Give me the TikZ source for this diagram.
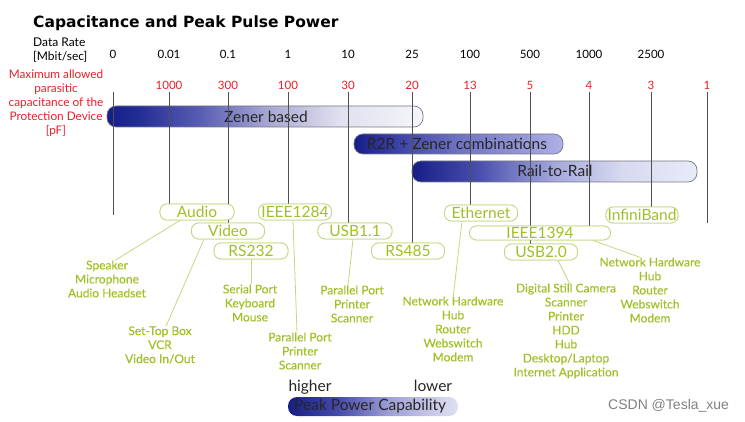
\documentclass[tikz,border=0pt]{standalone}
\usepackage{fontspec}
\setmainfont{Lato}
\newfontfamily\titlefont{DejaVu Sans}
\newfontfamily\wmfont{Liberation Sans}
\newfontfamily\descfont{Lato}[FakeBold=0.3]
\definecolor{navy}{RGB}{22,30,135}
\definecolor{gtext}{RGB}{160,192,40}
\definecolor{gline}{RGB}{195,215,130}
\definecolor{rtext}{RGB}{235,30,40}
\definecolor{colline}{RGB}{80,80,80}
\definecolor{barline}{RGB}{120,120,130}
\definecolor{zA}{RGB}{35,45,150}
\definecolor{zB}{RGB}{90,95,180}
\definecolor{zC}{RGB}{165,165,210}
\definecolor{zD}{RGB}{225,225,240}
\definecolor{zE}{RGB}{245,245,250}
\definecolor{rA}{RGB}{60,65,165}
\definecolor{rB}{RGB}{110,115,195}
\definecolor{rC}{RGB}{175,175,230}
\definecolor{tA}{RGB}{75,80,175}
\definecolor{tB}{RGB}{165,168,220}
\definecolor{tC}{RGB}{215,218,240}
\definecolor{tD}{RGB}{232,235,248}
\definecolor{pA}{RGB}{70,75,170}
\definecolor{pB}{RGB}{160,160,215}
\definecolor{pC}{RGB}{225,225,242}
\pgfdeclarehorizontalshading{zenershade}{100bp}{color(0bp)=(navy); color(25bp)=(navy); color(30bp)=(zA); color(40bp)=(zB); color(50bp)=(zC); color(62bp)=(zD); color(75bp)=(zE); color(100bp)=(zE)}
\pgfdeclarehorizontalshading{rtwozshade}{100bp}{color(0bp)=(navy); color(25bp)=(navy); color(35bp)=(rA); color(50bp)=(rB); color(75bp)=(rC); color(100bp)=(rC)}
\pgfdeclarehorizontalshading{railshade}{100bp}{color(0bp)=(navy); color(25bp)=(navy); color(37bp)=(tA); color(50bp)=(tB); color(62bp)=(tC); color(75bp)=(tD); color(100bp)=(tD)}
\pgfdeclarehorizontalshading{peakshade}{100bp}{color(0bp)=(navy); color(25bp)=(navy); color(40bp)=(pA); color(55bp)=(pB); color(75bp)=(pC); color(100bp)=(pC)}
\tikzset{
  numlbl/.style={font=\fontsize{11.5}{13}\selectfont, inner sep=0pt},
  rednum/.style={numlbl, text=rtext},
  colln/.style={draw=colline, line width=0.9pt},
  ifbox/.style={draw=gline, fill=white, line width=0.8pt, rounded corners=7pt, minimum height=16pt, inner sep=0pt, text=gtext, font=\fontsize{15.5}{16}\selectfont},
  desc/.style={align=center, text=gtext, inner sep=0pt, font=\descfont\fontsize{12}{14}\selectfont},
  conn/.style={draw=gline, line width=0.8pt},
  barbox/.style={draw=barline, line width=0.7pt, rounded corners=9pt},
  bartext/.style={text=black!85, inner sep=0pt, font=\fontsize{15.5}{16}\selectfont}
}
\begin{document}
\begin{tikzpicture}[x=1pt,y=-1pt]
\useasboundingbox (0,0) rectangle (745,422);
% title
\node[anchor=west, inner sep=0pt, font=\titlefont\bfseries\fontsize{15.5}{17}\selectfont] (title) at (33,23) {Capacitance and Peak Pulse Power};
% left labels
\node[anchor=west, align=left, inner sep=0pt, font=\fontsize{12}{14}\selectfont] (drate) at (33,50) {Data Rate\\{[Mbit/sec]}};
\node[align=center, inner sep=0pt, text=rtext, font=\fontsize{11.8}{14}\selectfont] (maxcap) at (56,103) {Maximum allowed\\parasitic\\capacitance of the\\Protection Device\\{[pF]}};
% data rate numbers
\foreach \x/\t [count=\i] in {113/0,169/0.01,228/0.1,288/1,348/10,412/25,470/100,530/500,589/1000,651/2500}
  \node[numlbl] (dr\i) at (\x,54) {\t};
\foreach \x/\t [count=\i] in {169/1000,228/300,288/100,348/30,412/20,470/13,530/5,589/4,651/3,707/1}
  \node[rednum] (cp\i) at (\x,85) {\t};
% bars
\shade[shading=zenershade, rounded corners=9pt] (107,106) rectangle (423,127);
\draw[barbox] (107,106) rectangle (423,127);
\node[bartext] (zener) at (266,117) {Zener based};
\shade[shading=rtwozshade, rounded corners=9pt] (354,134) rectangle (563,154);
\draw[barbox] (354,134) rectangle (563,154);
\node[bartext] (r2r) at (457,144) {R2R + Zener combinations};
\shade[shading=railshade, rounded corners=9pt] (412,161) rectangle (697,182);
\draw[barbox] (412,161) rectangle (697,182);
\node[bartext] (rail) at (555,171) {Rail-to-Rail};
% column tops and free ends
\foreach \x [count=\i] in {113,169,228,288,348,412,470,530,589,651,707}
  \coordinate (t\i) at (\x,92);
\coordinate (e1) at (113,215);
\coordinate (e11) at (707,223);
% interface box positions
\path
  node[ifbox, minimum width=74pt] (audio) at (197,212) {Audio}
  node[ifbox, minimum width=73pt] (video) at (228,231) {Video}
  node[ifbox, minimum width=74pt] (rs232) at (251,251) {RS232}
  node[ifbox, minimum width=73pt] (ieeeA) at (295,212) {IEEE1284}
  node[ifbox, minimum width=74pt] (usbA) at (355,231) {USB1.1}
  node[ifbox, minimum width=73pt] (rs485) at (408,251) {RS485}
  node[ifbox, minimum width=73pt] (eth) at (481,213) {Ethernet}
  node[ifbox, minimum width=141pt, minimum height=14pt] (ieeeB) at (540,233) {IEEE1394}
  node[ifbox, minimum width=73pt] (usbB) at (541,252) {USB2.0}
  node[ifbox, minimum width=72pt] (infini) at (642,215) {InfiniBand};
% column lines
\draw[colln] (t1) -- (e1);
\draw[colln] (t2) -- (t2 |- audio.north);
\draw[colln] (t3) -- (t3 |- video.north);
\draw[colln] (t4) -- (t4 |- ieeeA.north);
\draw[colln] (t5) -- (t5 |- usbA.north);
\draw[colln] (t6) -- (t6 |- rs485.north);
\draw[colln] (t7) -- (t7 |- eth.north);
\draw[colln] (t8) -- (t8 |- usbB.north);
\draw[colln] (t9) -- (t9 |- ieeeB.north);
\draw[colln] (t10) -- (t10 |- infini.north);
\draw[colln] (t11) -- (e11);
% redraw boxes over lines
\path
  node[ifbox, minimum width=74pt] at (audio) {Audio}
  node[ifbox, minimum width=73pt] at (video) {Video}
  node[ifbox, minimum width=74pt] at (rs232) {RS232}
  node[ifbox, minimum width=73pt] at (ieeeA) {IEEE1284}
  node[ifbox, minimum width=74pt] at (usbA) {USB1.1}
  node[ifbox, minimum width=73pt] at (rs485) {RS485}
  node[ifbox, minimum width=73pt] at (eth) {Ethernet}
  node[ifbox, minimum width=141pt, minimum height=14pt] at (ieeeB) {IEEE1394}
  node[ifbox, minimum width=73pt] at (usbB) {USB2.0}
  node[ifbox, minimum width=72pt] at (infini) {InfiniBand};
% descriptions
\node[desc] (dAudio) at (107,279) {Speaker\\Microphone\\Audio Headset};
\node[desc] (dVideo) at (160,345) {Set-Top Box\\VCR\\Video In/Out};
\node[desc] (dRS) at (250,303) {Serial Port\\Keyboard\\Mouse};
\node[desc] (dIeeeA) at (300,351) {Parallel Port\\Printer\\Scanner};
\node[desc] (dUsbA) at (352,304) {Parallel Port\\Printer\\Scanner};
\node[desc] (dEth) at (453,329) {Network Hardware\\Hub\\Router\\Webswitch\\Modem};
\node[desc] (dUsbB) at (566,331) {Digital Still Camera\\Scanner\\Printer\\HDD\\Hub\\Desktop/Laptop\\Internet Application};
\node[desc] (dIeeeB) at (650,290) {Network Hardware\\Hub\\Router\\Webswitch\\Modem};
% connectors
\draw[conn] ([xshift=-17pt]audio.south) -- ([xshift=8pt]dAudio.north);
\draw[conn] ([xshift=-24pt]video.south) -- ([xshift=6pt]dVideo.north);
\draw[conn] (rs232.south) -- (rs232.south |- dRS.north);
\draw[conn] ([xshift=-2pt]ieeeA.south) -- ([xshift=-3pt]dIeeeA.north);
\draw[conn] ([xshift=-2pt]usbA.south) -- ([xshift=-4pt]dUsbA.north);
\draw[conn] ([xshift=-19pt]eth.south) -- ([yshift=-2pt]dEth.north);
\draw[conn] ([xshift=17pt]usbB.south) -- ([xshift=5pt,yshift=-3pt]dUsbB.north);
\draw[conn] ([xshift=53pt]ieeeB.south) -- ([xshift=-10pt]dIeeeB.north);
% peak power legend
\node[bartext] (higher) at (310,387) {higher};
\node[bartext] (lower) at (433,386) {lower};
\shade[shading=peakshade, rounded corners=9pt] (288,397) rectangle (458,416);
\node[bartext, anchor=west] (peak) at (294,406.5) {Peak Power Capability};
% watermark
\node[anchor=west, inner sep=0pt, text=black!50, font=\wmfont\fontsize{14}{16}\selectfont] (wm) at (608,406) {CSDN @Tesla\_xue};
\end{tikzpicture}
\end{document}
